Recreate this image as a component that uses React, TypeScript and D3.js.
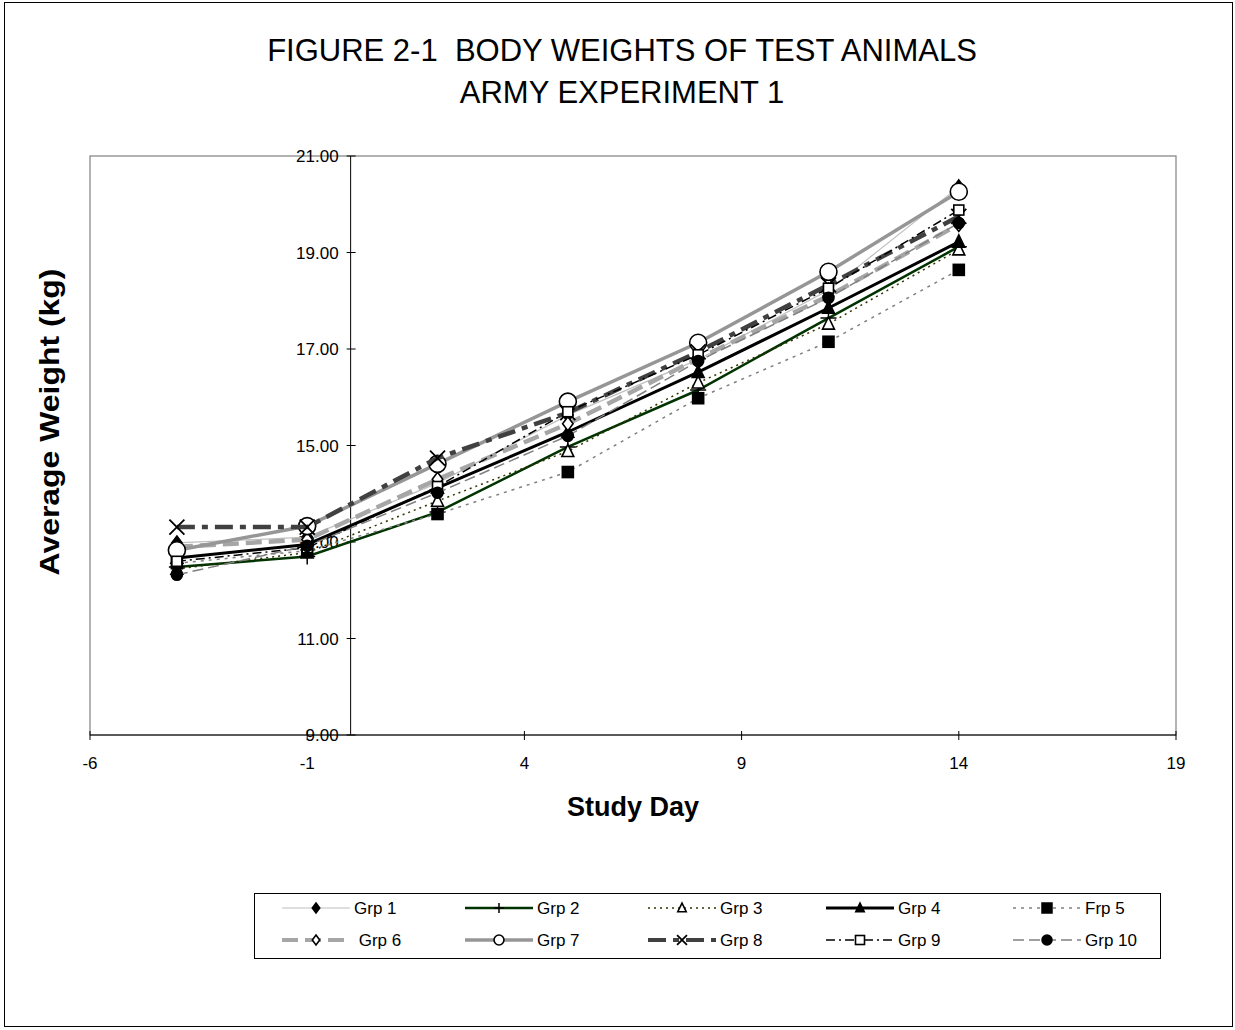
import React from "react";
import * as d3 from "d3";

const days = [-4, -1, 2, 5, 8, 11, 14];
const groupNames = ["Grp 1", "Grp 2", "Grp 3", "Grp 4", "Frp 5", " Grp 6", "Grp 7", "Grp 8", "Grp 9", "Grp 10"];
const grp1 = [12.98, 13.1, 14.22, 15.63, 16.78, 18.22, 20.36];
const grp2 = [12.48, 12.7, 13.62, 14.97, 16.15, 17.64, 19.12];
const grp3 = [12.44, 12.78, 13.85, 14.88, 16.3, 17.52, 19.06];
const grp4 = [12.67, 12.95, 14.12, 15.28, 16.52, 17.85, 19.22];
const grp5 = [12.56, 12.82, 13.58, 14.45, 15.98, 17.15, 18.64];
const grp6 = [12.9, 13.05, 14.3, 15.45, 16.8, 18.1, 19.58];
const grp7 = [12.83, 13.33, 14.62, 15.91, 17.13, 18.6, 20.26];
const grp8 = [13.31, 13.31, 14.74, 15.68, 16.94, 18.33, 19.75];
const grp9 = [12.6, 12.88, 14.15, 15.7, 16.88, 18.26, 19.88];
const grp10 = [12.32, 12.92, 14.02, 15.2, 16.75, 18.06, 19.61];
const yTicks = [9, 11, 13, 15, 17, 19, 21];
const xTicks = [-6, -1, 4, 9, 14, 19];

const seriesValues = [grp1, grp2, grp3, grp4, grp5, grp6, grp7, grp8, grp9, grp10];

type Style = { color: string; width: number; dash: string | null; marker: string; fill: string; size: number };
const styles: Style[] = [
  { color: "#c0c0c0", width: 1.2, dash: null, marker: "diamond", fill: "#000", size: 7 },
  { color: "#003300", width: 2.5, dash: null, marker: "plus", fill: "none", size: 8 },
  { color: "#333300", width: 1.5, dash: "2,4", marker: "triangle", fill: "#fff", size: 7 },
  { color: "#000000", width: 3, dash: null, marker: "triangle", fill: "#000", size: 7 },
  { color: "#808080", width: 1.5, dash: "3,5", marker: "square", fill: "#000", size: 5.5 },
  { color: "#a6a6a6", width: 4.5, dash: "16,7", marker: "diamond", fill: "#fff", size: 7 },
  { color: "#969696", width: 3.5, dash: null, marker: "circle", fill: "#fff", size: 8.5 },
  { color: "#404040", width: 4.5, dash: "18,7,6,7", marker: "x", fill: "none", size: 7.5 },
  { color: "#000000", width: 1.5, dash: "9,4,2,4", marker: "square", fill: "#fff", size: 5 },
  { color: "#808080", width: 1.5, dash: "11,5", marker: "circle", fill: "#000", size: 5.5 },
];

const FONT = "'Liberation Sans', Arial, Helvetica, sans-serif";

function Marker({ type, x, y, s, fill }: { type: string; x: number; y: number; s: number; fill: string }) {
  const st = { stroke: "#000", strokeWidth: 1.6 };
  if (type === "diamond")
    return <path d={`M${x},${y - s}L${x + s * 0.75},${y}L${x},${y + s}L${x - s * 0.75},${y}Z`} fill={fill} {...st} />;
  if (type === "triangle")
    return <path d={`M${x},${y - s}L${x + s * 0.85},${y + s * 0.75}L${x - s * 0.85},${y + s * 0.75}Z`} fill={fill} {...st} />;
  if (type === "square") return <rect x={x - s} y={y - s} width={2 * s} height={2 * s} fill={fill} {...st} />;
  if (type === "circle") return <circle cx={x} cy={y} r={s} fill={fill} {...st} />;
  if (type === "plus")
    return <path d={`M${x - s},${y}L${x + s},${y}M${x},${y - s}L${x},${y + s}`} fill="none" stroke="#000" strokeWidth={1.5} />;
  if (type === "x")
    return <path d={`M${x - s},${y - s}L${x + s},${y + s}M${x + s},${y - s}L${x - s},${y + s}`} fill="none" stroke="#000" strokeWidth={1.8} />;
  return null;
}

export default function App() {
  const W = 1235, H = 1030;
  const left = 90, right = 1176, top = 156, bottom = 735;
  const x = d3.scaleLinear().domain([-6, 19]).range([left, right]);
  const y = d3.scaleLinear().domain([9, 21]).range([bottom, top]);
  const line = d3.line<number>().x((_, i) => x(days[i])).y((v) => y(v));
  const x0 = x(0);

  const legX = [282, 465, 648, 826, 1013];
  const legY = [908, 940];

  return (
    <div style={{ position: "absolute", left: 0, top: 0 }}>
      <svg width={W} height={H} style={{ display: "block", fontFamily: FONT }}>
        <rect x={0} y={0} width={W} height={H} fill="#fff" />
        <rect x={4.5} y={2.5} width={1228} height={1024} fill="none" stroke="#000" strokeWidth={1} />
        <text x={622} y={61} textAnchor="middle" fontSize={31} xmlSpace="preserve">FIGURE 2-1  BODY WEIGHTS OF TEST ANIMALS</text>
        <text x={622} y={103} textAnchor="middle" fontSize={31}>ARMY EXPERIMENT 1</text>

        <rect x={left} y={top} width={right - left} height={bottom - top} fill="#fff" stroke="#808080" strokeWidth={1.2} />

        {/* y axis */}
        <line x1={x0} x2={x0} y1={top} y2={bottom} stroke="#000" strokeWidth={1} />
        {yTicks.map((t) => (
          <g key={t}>
            <line x1={x0 - 4} x2={x0 + 5} y1={y(t)} y2={y(t)} stroke="#000" />
            <text x={x0 - 12} y={y(t) + 6} textAnchor="end" fontSize={17}>{t.toFixed(2)}</text>
          </g>
        ))}
        {/* x axis */}
        <line x1={left} x2={right} y1={y(9)} y2={y(9)} stroke="#000" strokeWidth={1} />
        {xTicks.map((t) => (
          <g key={t}>
            <line x1={x(t)} x2={x(t)} y1={y(9) - 4} y2={y(9) + 5} stroke="#000" />
            <text x={x(t)} y={y(9) + 34} textAnchor="middle" fontSize={17}>{t}</text>
          </g>
        ))}

        {seriesValues.map((vals, si) => {
          const s = styles[si];
          return (
            <g key={si}>
              <path d={line(vals) || ""} fill="none" stroke={s.color} strokeWidth={s.width} strokeDasharray={s.dash || undefined} />
              {vals.map((v, i) => (
                <Marker key={i} type={s.marker} x={x(days[i])} y={y(v)} s={s.size} fill={s.fill} />
              ))}
            </g>
          );
        })}

        <text x={0} y={0} transform={`translate(59,422) rotate(-90)`} textAnchor="middle" fontSize={27} fontWeight="bold" textLength={307} lengthAdjust="spacingAndGlyphs">Average Weight (kg)</text>
        <text x={633} y={816} textAnchor="middle" fontSize={27} fontWeight="bold">Study Day</text>

        {/* legend */}
        <rect x={254.5} y={893.5} width={906} height={65} fill="#fff" stroke="#000" strokeWidth={1} />
        {groupNames.map((name, i) => {
          const s = styles[i];
          const col = i % 5, row = Math.floor(i / 5);
          const lx = legX[col], ly = legY[row];
          const lw = 68;
          return (
            <g key={i}>
              <line x1={lx} x2={lx + lw} y1={ly} y2={ly} stroke={s.color} strokeWidth={Math.min(s.width, 4)} strokeDasharray={s.dash || undefined} />
              <Marker type={s.marker} x={lx + lw / 2} y={ly} s={Math.min(s.size, 5.5) * 0.9} fill={s.fill} />
              <text x={lx + lw + 4} y={ly + 6} fontSize={17} xmlSpace="preserve">{name}</text>
            </g>
          );
        })}
      </svg>
    </div>
  );
}
